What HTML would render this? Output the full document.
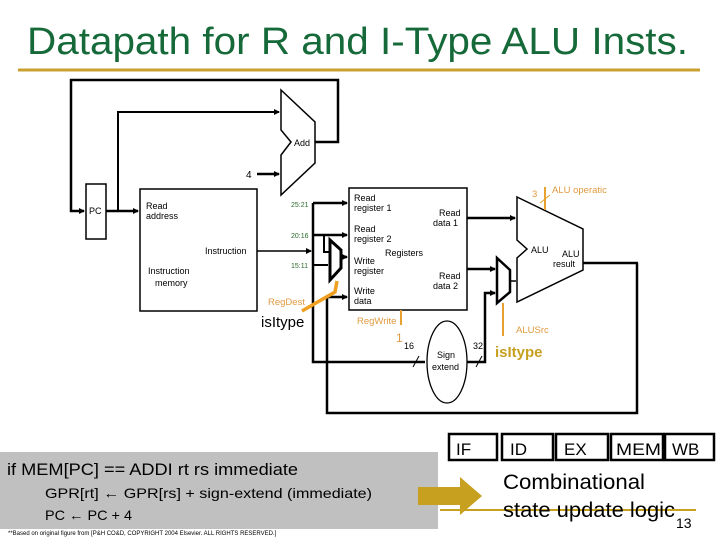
<!DOCTYPE html>
<html><head><meta charset="utf-8"><style>
html,body{margin:0;padding:0;background:#fff;}
svg{display:block;}
</style></head><body>
<svg width="720" height="540" viewBox="0 0 720 540" xmlns="http://www.w3.org/2000/svg" font-family="Liberation Sans, Arial, sans-serif">
<defs>
<marker id="a" markerWidth="6" markerHeight="6" refX="5" refY="3" orient="auto" markerUnits="userSpaceOnUse"><path d="M0,0 L6,3 L0,6 z" fill="#000"/></marker>
</defs>
<text x="27" y="54" font-size="38" fill="#166a3a" textLength="661" lengthAdjust="spacingAndGlyphs">Datapath for R and I-Type ALU Insts.</text>
<line x1="18" y1="70" x2="700" y2="70" stroke="#c8a030" stroke-width="3"/>

<g stroke="#000" stroke-width="2.5" fill="none">
<polyline points="315,142 338,142 338,80 71,80 71,211 84,211" marker-end="url(#a)"/>
<rect x="86" y="184" width="20" height="55" stroke-width="1.5"/>
<polyline points="106,211 138,211" marker-end="url(#a)"/>
<polyline points="118,211 118,112 279,112" marker-end="url(#a)" stroke-width="2"/>
<polygon points="281,90 315,122 315,163 281,195 281,155 291,142 281,130" stroke-width="1.5"/>
<line x1="257" y1="174" x2="279" y2="174" marker-end="url(#a)"/>
<rect x="140" y="189" width="117" height="122" stroke-width="1.5"/>
<line x1="257" y1="251" x2="311" y2="251" stroke-width="1.5" marker-end="url(#a)"/>
<polyline points="313,203 313,362 425,362" stroke-width="2.5"/>
<line x1="313" y1="203" x2="347" y2="203" marker-end="url(#a)"/>
<line x1="313" y1="235" x2="347" y2="235" marker-end="url(#a)"/>
<polyline points="324,235 324,252 329,252" stroke-width="2"/>
<line x1="313" y1="265" x2="328" y2="265" stroke-width="2"/>
<line x1="341" y1="257" x2="347" y2="257" marker-end="url(#a)"/>
<polygon points="330,240 341,250 341,268 330,280" stroke-width="3"/>
<polyline points="637,263 637,413 327,413 327,297 347,297" marker-end="url(#a)"/>
<rect x="349" y="188" width="118" height="122" stroke-width="1.5"/>
<line x1="467" y1="218" x2="515" y2="218" marker-end="url(#a)"/>
<line x1="467" y1="269" x2="495" y2="269" marker-end="url(#a)"/>
<polygon points="497,258 510,270 510,292 497,303" stroke-width="2.5"/>
<line x1="510" y1="281" x2="516" y2="281" stroke-width="1.5"/>
<ellipse cx="447" cy="362" rx="20" ry="41" stroke-width="1.3"/>
<polyline points="467,362 485,362 485,293 495,293" marker-end="url(#a)"/>
<line x1="413" y1="367" x2="419" y2="356" stroke-width="1"/>
<line x1="476" y1="367" x2="482" y2="356" stroke-width="1"/>
<polygon points="517,197 583,229 583,270 517,302 517,258 527,249 517,240" stroke-width="1.5"/>
<line x1="583" y1="263" x2="638" y2="263"/>
</g>

<g stroke="#f0a020" stroke-width="3.5" fill="none">
<polyline points="337,281 335,292 302,311"/>
</g>
<g stroke="#e8a030" stroke-width="2" fill="none">
<line x1="401" y1="310" x2="401" y2="325"/>
<line x1="503" y1="303" x2="503" y2="336"/>
<line x1="545" y1="187" x2="545" y2="210"/>
<line x1="540" y1="203" x2="550" y2="195" stroke-width="1"/>
</g>

<g font-size="9" fill="#000">
<text x="146" y="209">Read</text>
<text x="146" y="219">address</text>
<text x="205" y="254">Instruction</text>
<text x="148" y="274">Instruction</text>
<text x="155" y="286">memory</text>
<text x="294" y="146">Add</text>
<text x="246" y="178" font-size="10">4</text>
<text x="89" y="214" font-size="9">PC</text>
<text x="354" y="201">Read</text>
<text x="354" y="211">register 1</text>
<text x="354" y="232">Read</text>
<text x="354" y="242">register 2</text>
<text x="385" y="256">Registers</text>
<text x="354" y="264">Write</text>
<text x="354" y="274">register</text>
<text x="354" y="294">Write</text>
<text x="354" y="304">data</text>
<text x="439" y="216">Read</text>
<text x="433" y="226">data 1</text>
<text x="439" y="279">Read</text>
<text x="433" y="289">data 2</text>
<text x="531" y="253">ALU</text>
<text x="562" y="257">ALU</text>
<text x="553" y="267">result</text>
<text x="437" y="358">Sign</text>
<text x="432" y="370">extend</text>
<text x="404" y="349">16</text>
<text x="473" y="349">32</text>
</g>
<g font-size="7" fill="#2a6a2a">
<text x="291" y="207">25:21</text>
<text x="291" y="238">20:16</text>
<text x="291" y="268">15:11</text>
</g>
<g font-size="9.5" fill="#e09a40">
<text x="268" y="305">RegDest</text>
<text x="357" y="324">RegWrite</text>
<text x="516" y="333">ALUSrc</text>
<text x="552" y="193">ALU operatic</text>
<text x="532" y="197">3</text>
<text x="396" y="342" font-size="12">1</text>
</g>
<text x="261" y="327" font-size="15">isItype</text>
<text x="495" y="357" font-size="15" fill="#c8a020" font-weight="bold">isItype</text>

<rect x="0" y="452" width="438" height="77" fill="#c0c0c0"/>
<text x="7" y="475" font-size="17" textLength="291" lengthAdjust="spacingAndGlyphs">if MEM[PC] == ADDI rt rs immediate</text>
<text x="45" y="498" font-size="14" textLength="327" lengthAdjust="spacingAndGlyphs">GPR[rt] ← GPR[rs] + sign-extend (immediate)</text>
<text x="45" y="520" font-size="14" textLength="87" lengthAdjust="spacingAndGlyphs">PC ← PC + 4</text>
<text x="8" y="535" font-size="6">**Based on original figure from [P&amp;H CO&amp;D, COPYRIGHT 2004 Elsevier. ALL RIGHTS RESERVED.]</text>

<line x1="440" y1="510" x2="696" y2="510" stroke="#c8a020" stroke-width="2"/>
<polygon points="418,487 460,487 460,477 482,496 460,515 460,505 418,505" fill="#c8a020"/>

<g fill="none" stroke="#000" stroke-width="2.5">
<rect x="449" y="434" width="48" height="26"/>
<rect x="502" y="434" width="51" height="26"/>
<rect x="556" y="434" width="52" height="26"/>
<rect x="611" y="434" width="52" height="26"/>
<rect x="665" y="434" width="49" height="26"/>
</g>
<g font-size="17" fill="#000">
<text x="456" y="455">IF</text>
<text x="510" y="455">ID</text>
<text x="564" y="455">EX</text>
<text x="616" y="455" textLength="45" lengthAdjust="spacingAndGlyphs">MEM</text>
<text x="672" y="455">WB</text>
</g>
<text x="503" y="489" font-size="21" textLength="142" lengthAdjust="spacingAndGlyphs">Combinational</text>
<text x="503" y="517" font-size="21" textLength="172" lengthAdjust="spacingAndGlyphs">state update logic</text>
<text x="676" y="528" font-size="14">13</text>
</svg>
</body></html>
